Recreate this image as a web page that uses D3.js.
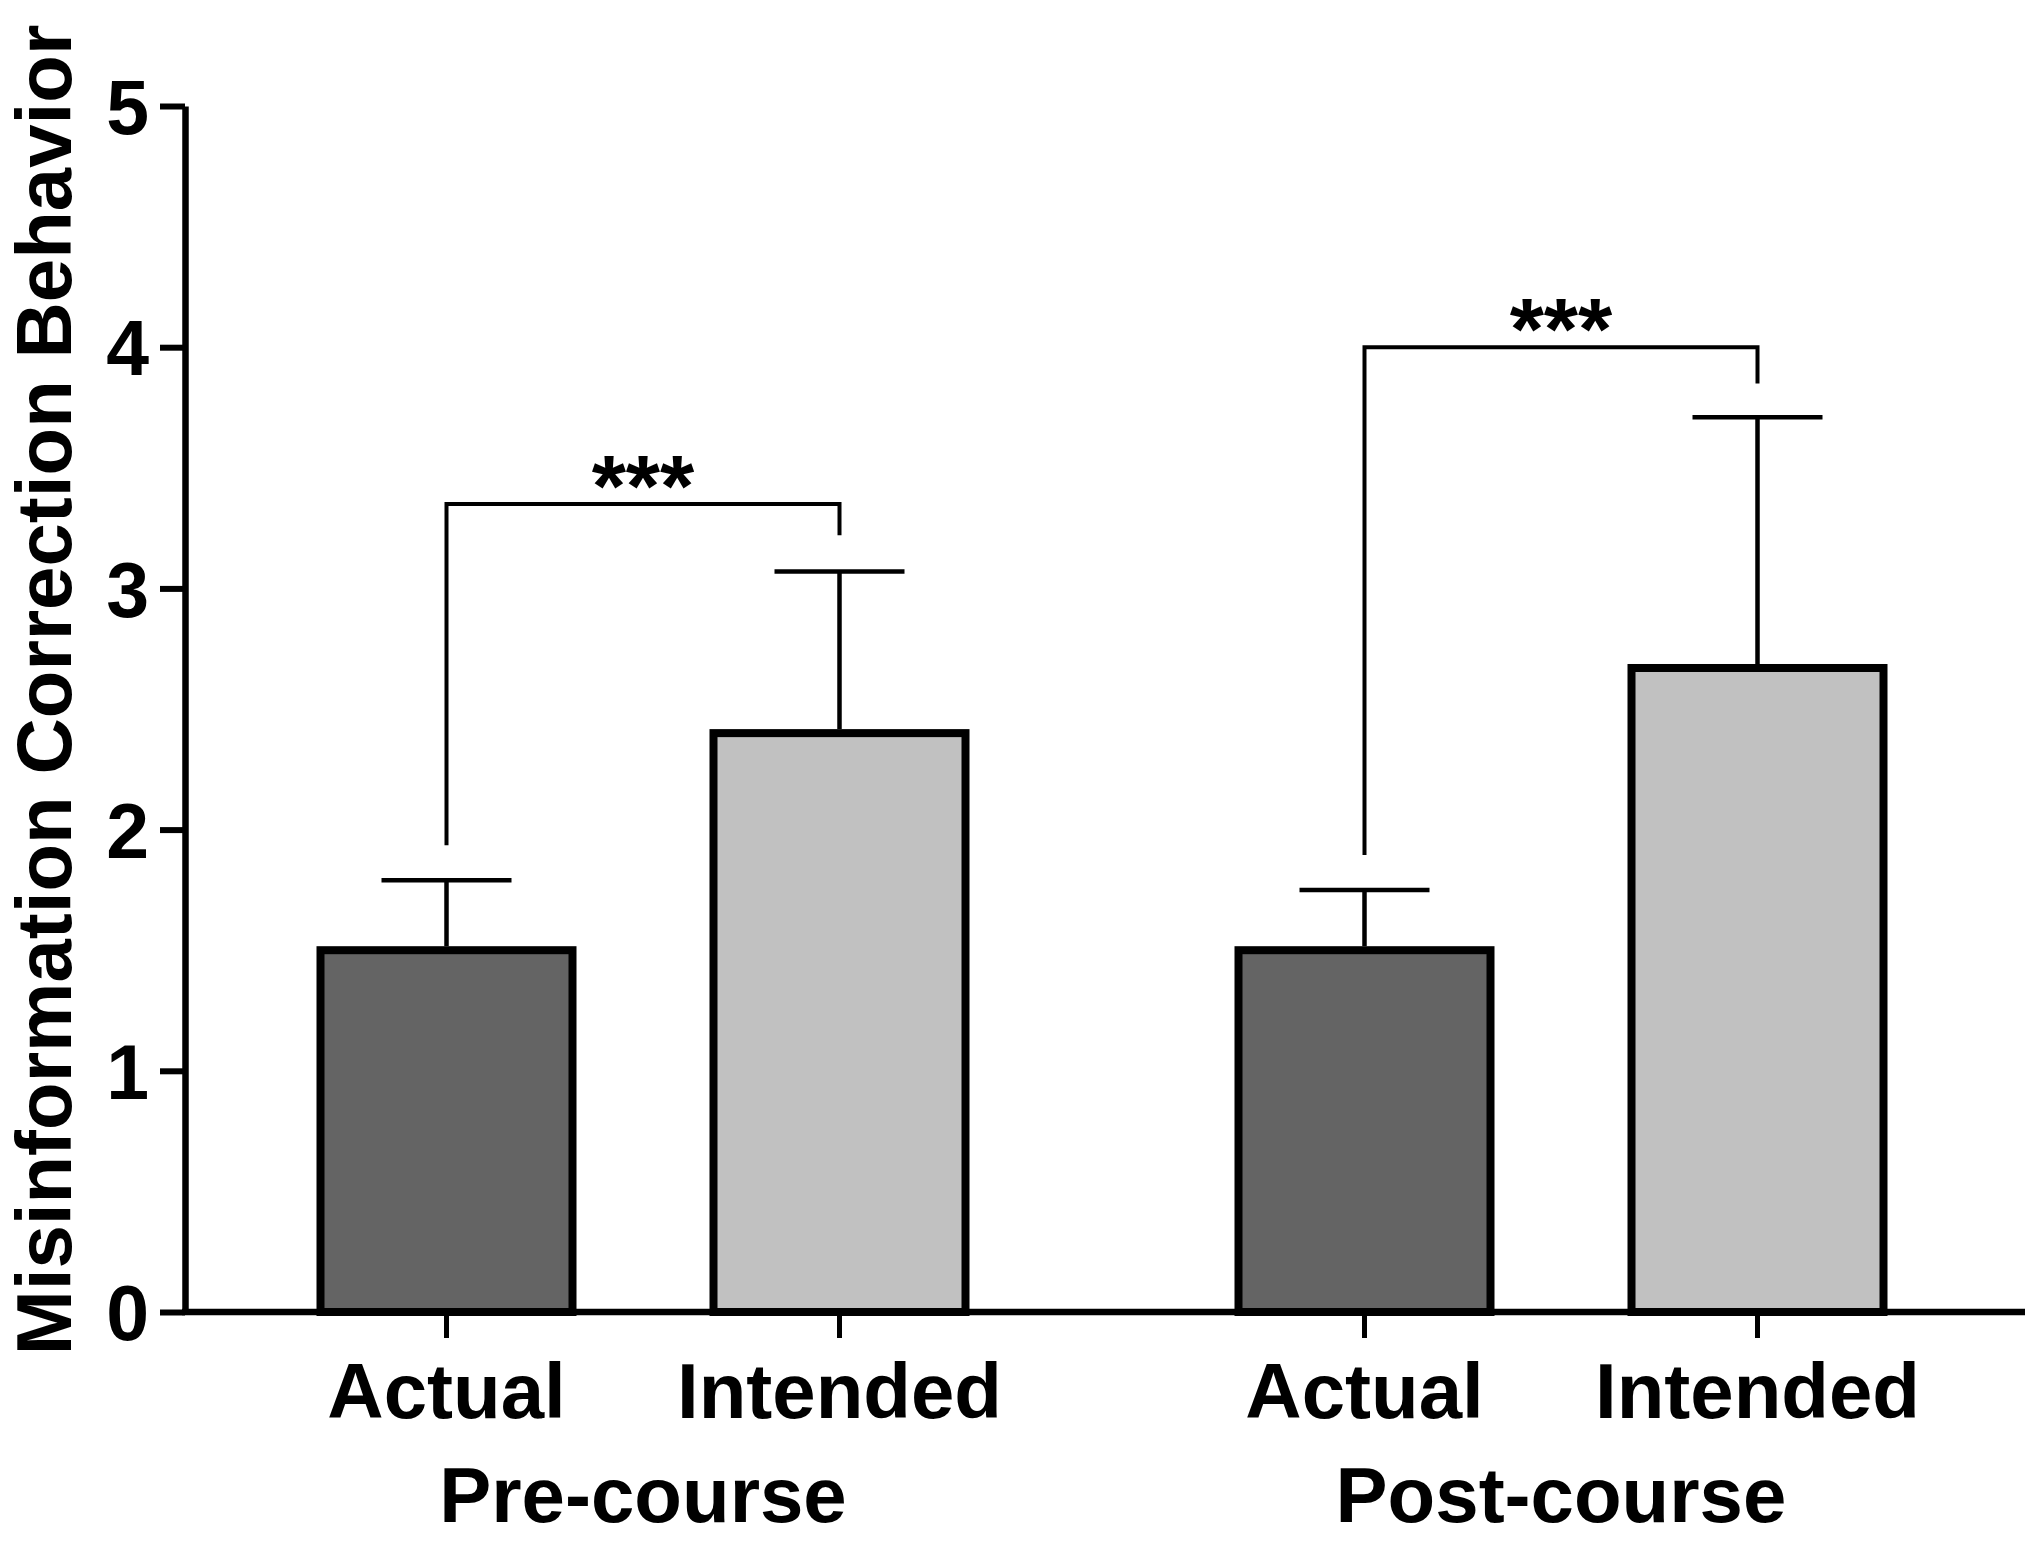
<!DOCTYPE html>
<head>
  <meta charset="utf-8">
  <script src="https://d3js.org/d3.v7.min.js"></script>
  <style>
    body { margin: 0; background: #fff; }
    svg { width: 2040px; height: 1542px; display: block; }
    text { font-family: "Liberation Sans", Arial, sans-serif; font-weight: bold; fill: #000; }
  </style>
</head>

<body>
  <svg></svg>
  <script>
    // data
    var groups = ['Pre-course', 'Post-course'];
    var conditions = ['Actual', 'Intended'];
    var preMeans = [1.5, 2.4];
    var preErrors = [0.29, 0.67];
    var postMeans = [1.5, 2.67];
    var postErrors = [0.25, 1.04];
    var yTicks = [0, 1, 2, 3, 4, 5];
    // significance brackets: [bar height, left leg end, right leg end]
    var preBracket = [3.35, 1.935, 3.22];
    var postBracket = [4.0, 1.895, 3.85];
    var sigLabels = ['***', '***'];

    var means = [preMeans, postMeans];
    var errors = [preErrors, postErrors];
    var brackets = [preBracket, postBracket];
    var fills = ['#646464', '#c1c1c1'];

    var rows = [];
    groups.forEach(function(g, gi) {
      conditions.forEach(function(c, ci) {
        rows.push({group: g, cond: c, ci: ci, mean: means[gi][ci], err: errors[gi][ci]});
      });
    });

    var axisX = 185, axisY = 1312, axisEnd = 2025;

    var svg = d3.select('svg');

    var y = d3.scaleLinear().domain([0, 5]).range([axisY, 106]);
    var x0 = d3.scaleBand().domain(groups).range([184, 184 + 2 * 918]);
    var x1 = d3.scaleBand().domain(conditions).range([66, 852])
      .paddingInner(0.35).paddingOuter(0.175);

    function cx(g, c) {
      return x0(g) + x1(c) + x1.bandwidth() / 2;
    }
    var barW = 252;
    var capW = 130;

    // bars
    svg.append('g').selectAll('rect')
      .data(rows).enter().append('rect')
      .attr('x', function(d) { return cx(d.group, d.cond) - barW / 2; })
      .attr('y', function(d) { return y(d.mean); })
      .attr('width', barW)
      .attr('height', function(d) { return y(0) - y(d.mean); })
      .attr('fill', function(d) { return fills[d.ci]; })
      .attr('stroke', '#000')
      .attr('stroke-width', 8);

    // error bars (upper only)
    var eb = svg.append('g').attr('stroke', '#000').attr('stroke-width', 4.5);
    eb.selectAll('line.stem')
      .data(rows).enter().append('line')
      .attr('class', 'stem')
      .attr('x1', function(d) { return cx(d.group, d.cond); })
      .attr('x2', function(d) { return cx(d.group, d.cond); })
      .attr('y1', function(d) { return y(d.mean) - 4; })
      .attr('y2', function(d) { return y(d.mean + d.err); });
    eb.selectAll('line.cap')
      .data(rows).enter().append('line')
      .attr('class', 'cap')
      .attr('x1', function(d) { return cx(d.group, d.cond) - capW / 2; })
      .attr('x2', function(d) { return cx(d.group, d.cond) + capW / 2; })
      .attr('y1', function(d) { return y(d.mean + d.err); })
      .attr('y2', function(d) { return y(d.mean + d.err); });

    // significance brackets
    var br = svg.append('g');
    br.selectAll('path')
      .data(groups).enter().append('path')
      .attr('fill', 'none')
      .attr('stroke', '#000')
      .attr('stroke-width', 4)
      .attr('d', function(g, i) {
        var b = brackets[i];
        var xl = cx(g, conditions[0]), xr = cx(g, conditions[1]);
        return 'M' + xl + ',' + y(b[1]) + 'V' + y(b[0]) + 'H' + xr + 'V' + y(b[2]);
      });
    br.selectAll('text')
      .data(groups).enter().append('text')
      .attr('x', function(g) { return (cx(g, conditions[0]) + cx(g, conditions[1])) / 2; })
      .attr('y', function(g, i) { return y(brackets[i][0]) + 12; })
      .attr('text-anchor', 'middle')
      .style('font-size', '88px')
      .text(function(g, i) { return sigLabels[i]; });

    // y axis
    var yAxis = svg.append('g')
      .attr('transform', 'translate(' + axisX + ',0)')
      .call(d3.axisLeft(y).tickValues(yTicks).tickFormat(d3.format('d'))
        .tickSizeInner(25).tickSizeOuter(0).tickPadding(11));
    yAxis.select('.domain').attr('stroke-width', 6.5).attr('stroke', '#000');
    yAxis.selectAll('.tick line').attr('stroke-width', 6).attr('stroke', '#000');
    yAxis.selectAll('.tick text')
      .style('font-size', '77px')
      .style('font-family', '"Liberation Sans", Arial, sans-serif')
      .style('font-weight', 'bold')
      .attr('fill', '#000')
      .attr('dy', '0.36em');

    // x axis line
    svg.append('line')
      .attr('x1', axisX - 3).attr('x2', axisEnd)
      .attr('y1', axisY).attr('y2', axisY)
      .attr('stroke', '#000').attr('stroke-width', 6.5);

    // x ticks and labels
    var xt = svg.append('g');
    xt.selectAll('line')
      .data(rows).enter().append('line')
      .attr('x1', function(d) { return cx(d.group, d.cond); })
      .attr('x2', function(d) { return cx(d.group, d.cond); })
      .attr('y1', axisY).attr('y2', axisY + 26)
      .attr('stroke', '#000').attr('stroke-width', 5);
    xt.selectAll('text')
      .data(rows).enter().append('text')
      .attr('x', function(d) { return cx(d.group, d.cond); })
      .attr('y', 1418)
      .attr('text-anchor', 'middle')
      .style('font-size', '78px')
      .text(function(d) { return d.cond; });

    svg.append('g').selectAll('text')
      .data(groups).enter().append('text')
      .attr('x', function(g) { return x0(g) + x0.bandwidth() / 2; })
      .attr('y', 1522)
      .attr('text-anchor', 'middle')
      .style('font-size', '78px')
      .text(function(g) { return g; });

    // y axis title
    svg.append('text')
      .attr('transform', 'translate(71,690)rotate(-90)')
      .attr('text-anchor', 'middle')
      .style('font-size', '78px')
      .text('Misinformation Correction Behavior');
  </script>
</body>
